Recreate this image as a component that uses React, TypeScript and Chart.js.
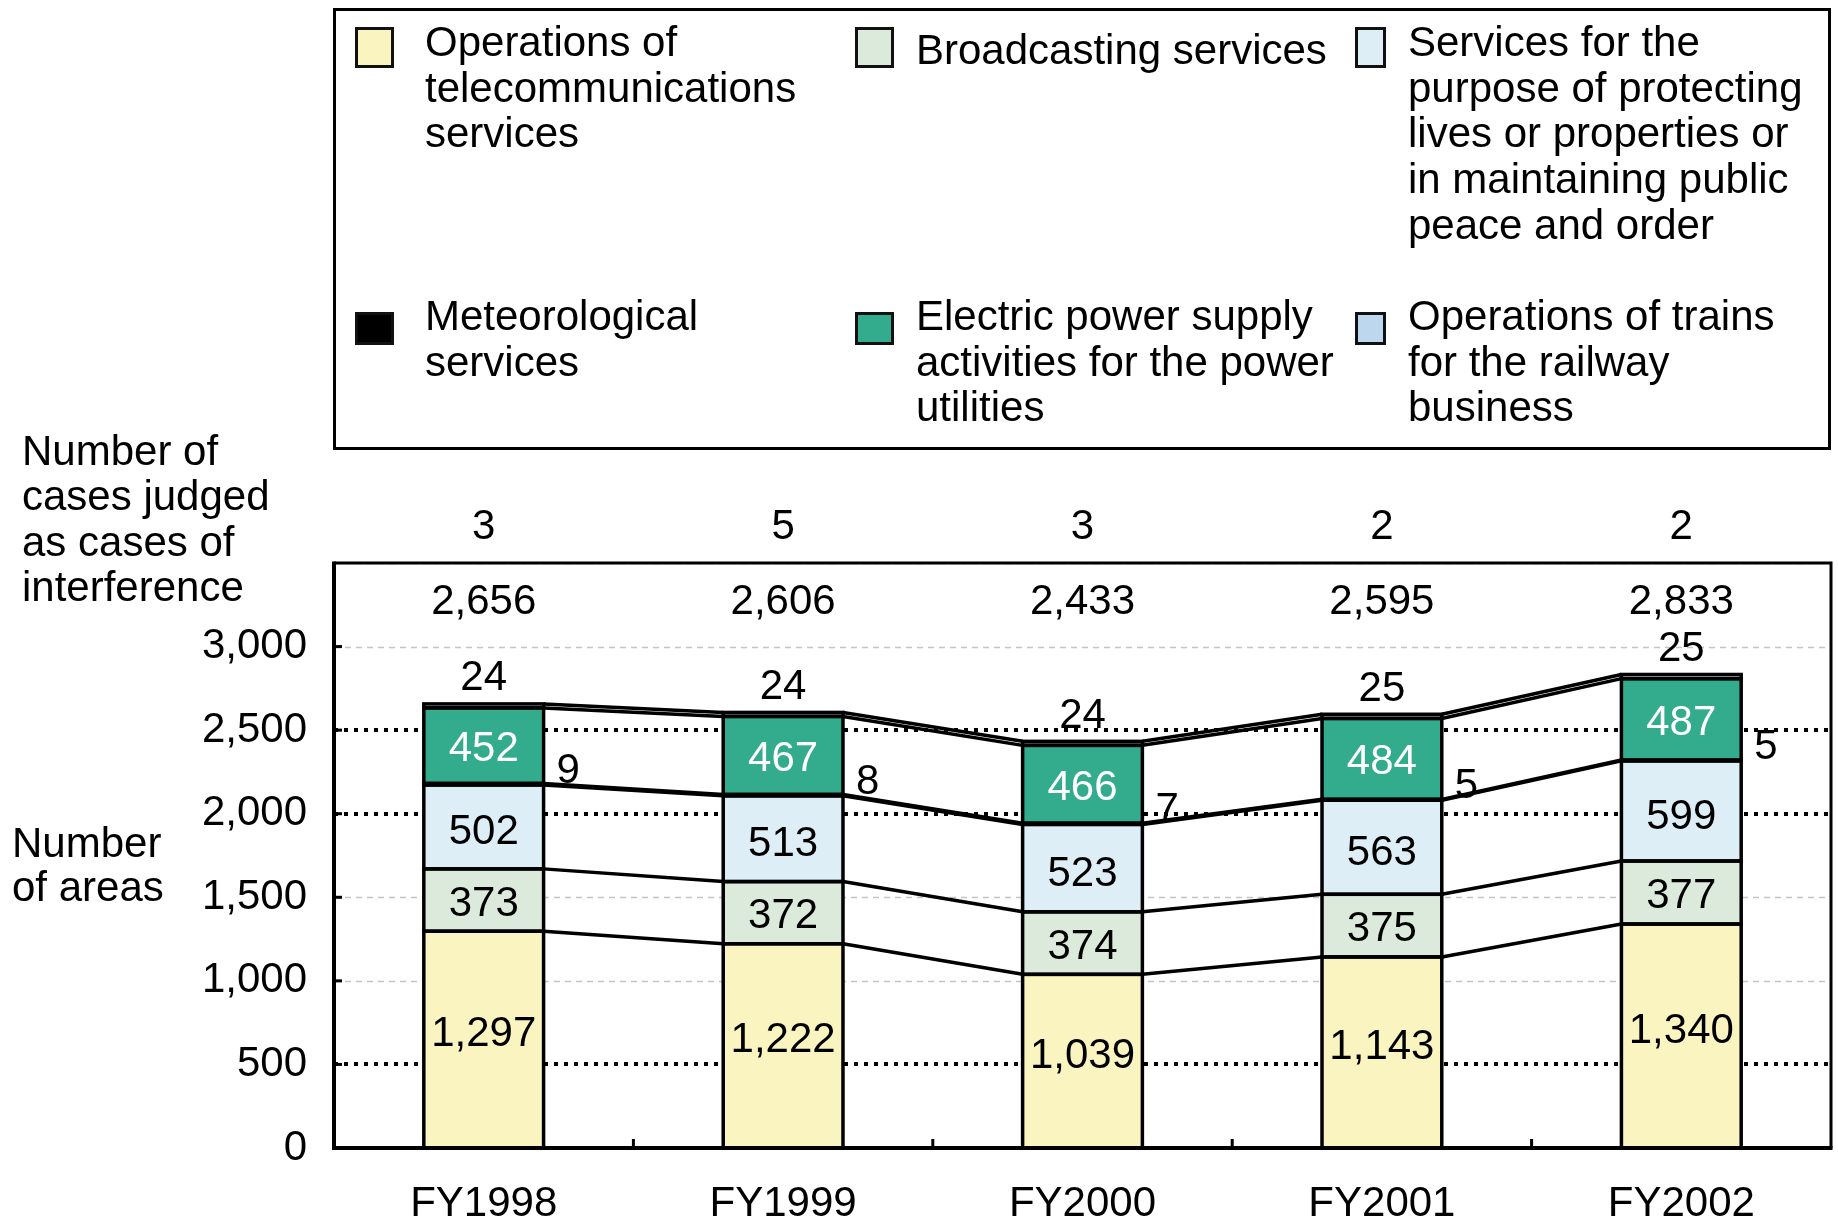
import React, { useEffect, useRef } from "react";
import { Chart, registerables } from "chart.js";

Chart.register(...registerables);

// ---------- data ----------
const categories = ["FY1998", "FY1999", "FY2000", "FY2001", "FY2002"];
const telecom = [1297, 1222, 1039, 1143, 1340];
const broadcasting = [373, 372, 374, 375, 377];
const protection = [502, 513, 523, 563, 599];
const meteorological = [9, 8, 7, 5, 5];
const electric = [452, 467, 466, 484, 487];
const trains = [24, 24, 24, 25, 25];
const totals = [2656, 2606, 2433, 2595, 2833];
const interferenceCases = [3, 5, 3, 2, 2];

const seriesNames = [
  "Operations of telecommunications services",
  "Broadcasting services",
  "Services for the purpose of protecting lives or properties or in maintaining public peace and order",
  "Meteorological services",
  "Electric power supply activities for the power utilities",
  "Operations of trains for the railway business",
];
const seriesColors = ["#FAF5C0", "#DCEADC", "#DDEEF6", "#000000", "#33AC8E", "#BDD7EE"];
const seriesValues = [telecom, broadcasting, protection, meteorological, electric, trains];
const legendOrder = [0, 1, 2, 3, 4, 5];

const yMin = 0;
const yMax = 3500;
const yStep = 500;
const dottedGridValues = [500, 2000, 2500];
const dashedGridValues = [1000, 1500, 3000, 3500];

const topTitleLines = ["Number of", "cases judged", "as cases of", "interference"];
const axisTitleLines = ["Number", "of areas"];

const FONT = '"Liberation Sans", Arial, Helvetica, sans-serif';
const FS = 42;
// vertical nudge of in-bar labels per series (layout only)
const labelNudge = [-5, 4, 6, 0, 4, 0];

const fmt = (v: number) => v.toLocaleString("en-US");

const drawPlugin = {
  id: "custom-draw",
  beforeDatasetsDraw(chart: any) {
    const { ctx, chartArea, scales } = chart;
    const y = scales.y;
    ctx.save();
    ctx.strokeStyle = "#c4c4c4";
    ctx.lineWidth = 1.5;
    ctx.setLineDash([6, 5]);
    dashedGridValues.forEach((v) => {
      const py = Math.round(y.getPixelForValue(v)) + 0.5;
      ctx.beginPath();
      ctx.moveTo(chartArea.left, py);
      ctx.lineTo(chartArea.right, py);
      ctx.stroke();
    });
    ctx.strokeStyle = "#000";
    ctx.lineWidth = 4;
    ctx.setLineDash([4, 6]);
    dottedGridValues.forEach((v) => {
      const py = Math.round(y.getPixelForValue(v));
      ctx.beginPath();
      ctx.moveTo(chartArea.left, py);
      ctx.lineTo(chartArea.right, py);
      ctx.stroke();
    });
    ctx.restore();
  },
  afterDatasetsDraw(chart: any) {
    const { ctx, chartArea, scales } = chart;
    const x = scales.x;
    const y = scales.y;
    const metas = seriesValues.map((_, d) => chart.getDatasetMeta(d).data);
    ctx.save();
    ctx.setLineDash([]);

    // series lines between bars
    ctx.strokeStyle = "#000";
    ctx.lineWidth = 3.5;
    metas.forEach((bars: any[]) => {
      for (let i = 0; i < bars.length - 1; i++) {
        const a = bars[i];
        const b = bars[i + 1];
        ctx.beginPath();
        ctx.moveTo(a.x + a.width / 2, a.y);
        ctx.lineTo(b.x - b.width / 2, b.y);
        ctx.stroke();
      }
    });

    // bar outlines
    metas.forEach((bars: any[]) => {
      bars.forEach((bar: any) => {
        ctx.strokeRect(bar.x - bar.width / 2, bar.y, bar.width, bar.base - bar.y);
      });
    });

    // segment labels
    ctx.font = `${FS}px ${FONT}`;
    ctx.textAlign = "center";
    ctx.textBaseline = "middle";
    [0, 1, 2, 4].forEach((d) => {
      metas[d].forEach((bar: any, i: number) => {
        ctx.fillStyle = d === 4 ? "#fff" : "#000";
        ctx.fillText(fmt(seriesValues[d][i]), bar.x, (bar.y + bar.base) / 2 + labelNudge[d]);
      });
    });
    ctx.fillStyle = "#000";
    metas[5].forEach((bar: any, i: number) => {
      ctx.fillText(fmt(trains[i]), bar.x, bar.y - 25);
    });
    ctx.textAlign = "left";
    metas[3].forEach((bar: any, i: number) => {
      ctx.fillText(fmt(meteorological[i]), bar.x + bar.width / 2 + 13, (bar.y + bar.base) / 2 - 13);
    });
    ctx.textAlign = "center";
    categories.forEach((_, i) => {
      const px = x.getPixelForValue(i);
      ctx.fillText(fmt(totals[i]), px, chartArea.top + 39);
      ctx.fillText(fmt(interferenceCases[i]), px, chartArea.top - 36);
    });

    ctx.textAlign = "left";
    topTitleLines.forEach((t, k) => ctx.fillText(t, 22, chartArea.top - 110 + k * 45.5));
    axisTitleLines.forEach((t, k) => ctx.fillText(t, 12, chartArea.top + 282 + k * 44));

    // plot frame
    ctx.strokeStyle = "#000";
    ctx.lineWidth = 3;
    ctx.beginPath();
    ctx.moveTo(chartArea.left, chartArea.top);
    ctx.lineTo(chartArea.right, chartArea.top);
    ctx.lineTo(chartArea.right, chartArea.bottom);
    ctx.stroke();
    ctx.lineWidth = 4;
    ctx.beginPath();
    ctx.moveTo(chartArea.left, chartArea.top - 1.5);
    ctx.lineTo(chartArea.left, chartArea.bottom);
    ctx.lineTo(chartArea.right + 1.5, chartArea.bottom);
    ctx.stroke();

    ctx.lineWidth = 3;
    for (let v = yMin; v < yMax; v += yStep) {
      const py = y.getPixelForValue(v);
      ctx.beginPath();
      ctx.moveTo(chartArea.left, py);
      ctx.lineTo(chartArea.left + 8, py);
      ctx.stroke();
    }
    for (let i = 0; i < categories.length - 1; i++) {
      const px = (x.getPixelForValue(i) + x.getPixelForValue(i + 1)) / 2;
      ctx.beginPath();
      ctx.moveTo(px, chartArea.bottom);
      ctx.lineTo(px, chartArea.bottom - 9);
      ctx.stroke();
    }
    ctx.restore();
  },
};

const legendColLeft = [355, 855, 1355];
const legendSwatchWidth = [39, 39, 31];
const legendTextLeft = [425, 916, 1408];
const legendTextWidth = [400, 428, 410];
const legendRowTop = [19, 293];
const legendTextNudge = [0, 8, 0, 0, 0, 0];
const legendSwatchTop = [27, 312];
const legendSwatchHeight = [41, 33];

export default function App() {
  const canvasRef = useRef<HTMLCanvasElement | null>(null);

  useEffect(() => {
    const canvas = canvasRef.current;
    if (!canvas) return;
    const chart = new Chart(canvas, {
      type: "bar",
      data: {
        labels: categories,
        datasets: seriesValues.map((vals, d) => ({
          label: seriesNames[d],
          data: vals,
          backgroundColor: seriesColors[d],
          borderWidth: 0,
          barPercentage: 0.4,
          categoryPercentage: 1.0,
        })),
      },
      options: {
        responsive: false,
        animation: false,
        devicePixelRatio: 1,
        layout: { padding: { top: 563, right: 7, left: 0, bottom: 0 } },
        plugins: { legend: { display: false }, tooltip: { enabled: false } },
        scales: {
          x: {
            stacked: true,
            grid: { display: false, drawTicks: false },
            border: { display: false },
            ticks: { padding: 31, color: "#000", font: { family: FONT, size: FS } },
            afterFit: (s: any) => {
              s.height = 72;
            },
          },
          y: {
            stacked: true,
            min: yMin,
            max: yMax,
            grid: { display: false, drawTicks: false },
            border: { display: false },
            ticks: {
              stepSize: yStep,
              padding: 27,
              color: "#000",
              font: { family: FONT, size: FS },
              callback: (v: any) => (Number(v) >= yMax ? "" : fmt(Number(v))),
            },
            afterFit: (s: any) => {
              s.width = 334;
            },
          },
        },
      },
      plugins: [drawPlugin],
    } as any);
    return () => chart.destroy();
  }, []);

  return (
    <div style={{ position: "absolute", left: 0, top: 0, width: 1838, height: 1220, background: "#fff", overflow: "hidden" }}>
      <canvas ref={canvasRef} width={1838} height={1220} style={{ position: "absolute", left: 0, top: 0 }} />
      <div
        style={{
          position: "absolute",
          left: 333,
          top: 8,
          width: 1498,
          height: 442,
          border: "3px solid #000",
          boxSizing: "border-box",
        }}
      />
      {legendOrder.map((d, k) => {
        const col = k % 3;
        const row = Math.floor(k / 3);
        const top = legendRowTop[row] + legendTextNudge[k];
        return (
          <React.Fragment key={d}>
            <div
              style={{
                position: "absolute",
                left: legendColLeft[col],
                top: legendSwatchTop[row],
                width: legendSwatchWidth[col],
                height: legendSwatchHeight[row],
                background: seriesColors[d],
                border: "3px solid #111",
                boxSizing: "border-box",
              }}
            />
            <div
              style={{
                position: "absolute",
                left: legendTextLeft[col],
                top,
                width: legendTextWidth[col],
                fontFamily: FONT,
                fontSize: FS,
                lineHeight: "45.7px",
                color: "#000",
              }}
            >
              {seriesNames[d]}
            </div>
          </React.Fragment>
        );
      })}
    </div>
  );
}
